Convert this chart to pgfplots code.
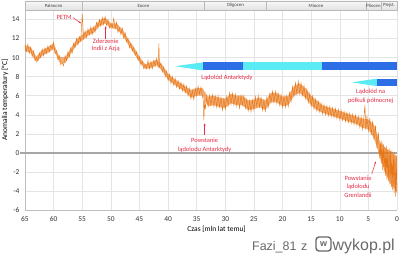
\documentclass[border=0pt]{standalone}
\usepackage{pgfplots}
\pgfplotsset{compat=1.18}
\usepackage{fontspec}
\setmainfont{Carlito}
\setsansfont{Liberation Sans}
\usetikzlibrary{arrows.meta}
\definecolor{curve}{RGB}{232,118,22}
\definecolor{annot}{RGB}{228,45,70}
\definecolor{cyanbar}{RGB}{90,235,245}
\definecolor{bluebar}{RGB}{45,110,230}
\definecolor{gridc}{RGB}{228,228,228}
\definecolor{wm}{RGB}{105,105,105}
\begin{document}
\begin{tikzpicture}
\useasboundingbox (-25bp,-45bp) rectangle (375bp,210bp);
\begin{axis}[
  at={(0,0)}, anchor=south west,
  scale only axis, width=372bp, height=200bp,
  xmin=0, xmax=65, x dir=reverse, ymin=-6, ymax=15,
  xtick={0,5,...,65}, ytick={-6,-4,...,14},
  grid=major, major grid style={gridc, line width=0.5pt},
  axis lines*=left, axis line style={black!25, line width=0.6pt},
  tick style={draw=none},
  tick label style={font=\fontsize{7.5}{8}\selectfont, text=black!80},
  xticklabel style={yshift=-3bp},
  yticklabel style={xshift=-2bp},
  /pgf/number format/assume math mode=true,
  xlabel={Czas [mln lat temu]},
  ylabel={Anomalia temperatury [°C]},
  xlabel style={font=\fontsize{7.5}{8}\selectfont, at={(axis description cs:0.515,-0.095)}, anchor=center},
  ylabel style={font=\fontsize{7.5}{8}\selectfont, at={(axis description cs:-0.054,0.55)}, anchor=center},
  clip=false,
]
% epoch band
\shade[top color=gray!6, bottom color=gray!22, draw=gray!55, line width=0.4pt] (axis cs:65,15) rectangle (axis cs:0,15.95);
\pgfplotsinvokeforeach{55,33.6,22.9,5.4,2.8}{\draw[gray!55, line width=0.4pt] (axis cs:#1,15) -- (axis cs:#1,15.95);}
\node[font=\fontsize{4.8}{5}\selectfont, text=black!75, inner sep=0pt] at (axis cs:60,15.47) {Paleocen};
\node[font=\fontsize{4.8}{5}\selectfont, text=black!75, inner sep=0pt] at (axis cs:44.3,15.47) {Eocen};
\node[font=\fontsize{4.8}{5}\selectfont, text=black!75, inner sep=0pt] at (axis cs:28.25,15.47) {Oligocen};
\node[font=\fontsize{4.8}{5}\selectfont, text=black!75, inner sep=0pt] at (axis cs:14.15,15.47) {Miocen};
\node[font=\fontsize{4.8}{5}\selectfont, text=black!75, inner sep=0pt] at (axis cs:4.1,15.47) {Pliocen};
\node[font=\fontsize{4.8}{5}\selectfont, text=black!75, inner sep=0pt] at (axis cs:1.4,15.47) {Plejst.};
% zero line
\draw[black!35, line width=1.3pt] (axis cs:65.9,0) -- (axis cs:0,0);
% ice sheet bars
\fill[cyanbar] (axis cs:38.8,9.1) -- (axis cs:33.9,9.5) -- (axis cs:33.9,8.65) -- cycle;
\fill[bluebar] (axis cs:33.9,8.65) rectangle (axis cs:26.9,9.5);
\fill[cyanbar] (axis cs:26.9,8.65) rectangle (axis cs:13.1,9.5);
\fill[bluebar] (axis cs:13.1,8.65) rectangle (axis cs:0,9.5);
\fill[cyanbar] (axis cs:7.9,7.4) -- (axis cs:3.5,7.8) -- (axis cs:3.5,7.0) -- cycle;
\fill[bluebar] (axis cs:3.5,7.0) rectangle (axis cs:0,7.8);
% envelope of the noisy record (upper edge forward, lower edge back)
\addplot[fill=curve, fill opacity=0.6, draw=none] coordinates {
(65,11.3)(64,11.1)(63,10.1)(62,10.8)(61,11.1)(60,11.5)(59,10.1)(58,10.0)(57,11.0)(56,11.9)
(55,12.4)(54,12.9)(53,13.2)(52,13.9)(51,14.2)(50,13.6)(49,13.6)(48,13.0)(47,12.0)(46,11.1)
(45,10.1)(44,9.3)(43,9.5)(42,9.8)(41,9.2)(40,8.3)(39,7.8)(38,7.4)(37,7.0)(36,6.6)
(35,6.8)(34,6.8)(33,5.9)(32,6.0)(31,5.8)(30,5.7)(29,6.2)(28,6.0)(27,6.0)(26,5.5)
(25,5.6)(24,5.8)(23,5.5)(22,6.3)(21,6.3)(20,5.9)(19,6.0)(18,7.0)(17,7.3)(16,6.8)
(15,6.0)(14,5.5)(13,5.0)(12,4.8)(11,4.6)(10,4.4)(9,4.2)(8,4.0)(7,3.8)(6,3.6)
(5,3.5)(4,2.9)(3,1.2)(2,0.5)(1,0.1)(0,-0.4)
(0,-4.1)(1,-3.4)(2,-2.2)(3,-0.4)(4,1.5)(5,2.5)(6,2.6)(7,3.0)(8,3.2)(9,3.4)
(10,3.6)(11,3.8)(12,4.0)(13,4.2)(14,4.5)(15,5.0)(16,5.8)(17,6.3)(18,6.0)(19,5.0)
(20,4.9)(21,5.3)(22,5.3)(23,4.5)(24,4.8)(25,4.6)(26,4.5)(27,5.0)(28,5.0)(29,5.2)
(30,4.7)(31,4.8)(32,5.0)(33,4.9)(34,6.0)(35,6.0)(36,5.8)(37,6.4)(38,6.8)(39,7.2)
(40,7.7)(41,8.6)(42,9.2)(43,8.9)(44,8.8)(45,9.5)(46,10.5)(47,11.4)(48,12.4)(49,13.0)
(50,13.1)(51,13.6)(52,13.3)(53,12.6)(54,12.3)(55,11.8)(56,11.3)(57,10.4)(58,9.4)(59,9.5)
(60,10.9)(61,10.5)(62,10.2)(63,9.5)(64,10.5)(65,10.7)
};
% temperature curve
\addplot[curve, line width=0.45pt] coordinates {
(65.00,11.4)(64.75,10.65)(64.50,11.4)(64.25,10.45)(64.00,11.1)(63.75,10.1)(63.50,10.7)(63.25,9.7)
(63.00,10.0)(62.75,9.65)(62.50,10.5)(62.25,10.0)(62.00,10.9)(61.75,10.2)(61.50,11.0)(61.25,10.45)
(61.00,11.2)(60.75,10.6)(60.50,11.3)(60.25,10.9)(60.00,11.6)(59.75,10.4)(59.50,10.7)(59.25,9.8)
(59.00,10.2)(58.75,9.25)(58.50,9.5)(58.25,9.15)(58.00,10.2)(57.75,9.7)(57.50,10.6)(57.25,10.05)
(57.00,11.0)(56.75,10.5)(56.50,11.5)(56.25,11.05)(56.00,12.0)(55.75,11.35)(55.50,12.2)(55.25,11.75)
(55.00,14.6)(54.75,12.0)(54.50,12.8)(54.25,12.1)(54.00,13.0)(53.75,12.4)(53.50,13.2)(53.25,12.45)
(53.00,13.2)(52.75,12.7)(52.50,13.7)(52.25,13.15)(52.00,14.0)(51.75,13.3)(51.50,14.2)(51.25,13.45)
(51.00,14.3)(50.75,13.4)(50.50,14.0)(50.25,13.1)(50.00,13.6)(49.75,13.15)(49.50,14.1)(49.25,13.05)
(49.00,13.7)(48.75,12.65)(48.50,13.1)(48.25,12.45)(48.00,13.1)(47.75,12.05)(47.50,12.6)(47.25,11.65)
(47.00,12.0)(46.75,11.05)(46.50,11.5)(46.25,10.7)(46.00,11.1)(45.75,10.25)(45.50,10.6)(45.25,9.75)
(45.00,10.1)(44.75,9.25)(44.50,9.6)(44.25,8.85)(44.00,9.3)(43.75,8.85)(43.50,9.7)(43.25,8.85)
(43.00,9.6)(42.75,8.85)(42.50,9.7)(42.25,9.1)(42.00,9.9)(41.75,9.05)(41.60,11.5)(41.50,9.0)
(41.25,9.45)(41.00,8.5)(40.75,9.05)(40.50,8.0)(40.25,8.6)(40.00,7.6)(39.75,8.25)(39.50,7.3)
(39.25,8.0)(39.00,7.1)(38.75,7.8)(38.50,6.9)(38.25,7.6)(38.00,6.7)(37.75,7.4)(37.50,6.5)
(37.25,7.2)(37.00,6.3)(36.75,7.0)(36.50,6.0)(36.25,6.75)(36.00,5.7)(35.75,6.55)(35.50,5.6)
(35.25,6.75)(35.00,6.0)(34.75,7.0)(34.50,6.2)(34.25,6.9)(34.00,6.0)(33.85,5.5)(33.75,3.4)
(33.60,5.6)(33.50,4.6)(33.25,5.8)(33.00,4.9)(32.75,6.05)(32.50,5.0)(32.25,6.1)(32.00,4.9)
(31.75,5.95)(31.50,4.8)(31.25,5.95)(31.00,4.8)(30.75,5.8)(30.50,4.5)(30.25,5.65)(30.00,4.6)
(29.75,5.95)(29.50,5.0)(29.25,6.3)(29.00,5.1)(28.75,6.25)(28.50,5.0)(28.25,6.15)(28.00,4.9)
(27.75,5.9)(27.50,4.7)(27.25,6.0)(27.00,5.0)(26.75,6.0)(26.50,4.7)(26.25,5.65)(26.00,4.4)
(25.75,5.5)(25.50,4.3)(25.25,5.55)(25.00,4.5)(24.75,5.9)(24.50,4.9)(24.25,6.0)(24.00,4.8)
(23.75,5.8)(23.50,4.5)(23.25,5.55)(23.00,4.4)(22.75,5.8)(22.50,4.8)(22.25,6.2)(22.00,5.3)
(21.75,6.45)(21.50,5.3)(21.25,6.45)(21.00,5.2)(20.75,6.2)(20.50,5.0)(20.25,6.1)(20.00,4.8)
(19.75,5.95)(19.50,4.8)(19.25,6.0)(19.00,4.9)(18.75,6.35)(18.50,5.4)(18.25,6.95)(18.00,5.9)
(17.75,7.35)(17.50,6.2)(17.25,7.5)(17.00,6.2)(16.75,7.3)(16.50,6.0)(16.25,7.05)(16.00,5.7)
(15.75,6.7)(15.50,5.3)(15.25,6.2)(15.00,4.9)(14.75,5.95)(14.50,4.6)(14.25,5.6)(14.00,4.4)
(13.75,5.4)(13.50,4.3)(13.25,5.2)(13.00,4.1)(12.75,5.05)(12.50,4.0)(12.25,4.95)(12.00,3.9)
(11.75,4.85)(11.50,3.8)(11.25,4.75)(11.00,3.7)(10.75,4.65)(10.50,3.6)(10.25,4.55)(10.00,3.5)
(9.75,4.45)(9.50,3.4)(9.25,4.35)(9.00,3.3)(8.75,4.25)(8.50,3.2)(8.25,4.15)(8.00,3.1)
(7.75,4.05)(7.50,3.0)(7.25,3.95)(7.00,2.9)(6.75,3.8)(6.50,2.7)(6.25,3.75)(6.00,2.5)
(5.75,4.0)(5.60,5.0)(5.45,2.4)(5.25,3.9)(5.00,2.3)(4.75,3.65)(4.50,1.9)(4.25,3.35)
(4.00,1.3)(3.75,2.85)(3.50,0.5)(3.25,2.15)(3.00,-0.6)(2.875,1.0)(2.75,-1.15)(2.625,1.3)
(2.50,-1.8)(2.375,0.9)(2.25,-2.0)(2.125,0.6)(2.00,-2.4)(1.875,0.7)(1.75,-2.8)(1.625,0.3)
(1.50,-3.0)(1.375,0.5)(1.25,-3.3)(1.125,0.2)(1.00,-3.6)(0.875,0.3)(0.75,-3.9)(0.625,-0.2)
(0.50,-4.2)(0.375,0.1)(0.25,-4.6)(0.125,-0.3)(0.00,-4.3)
};
% annotations
\node[font=\fontsize{6.5}{7}\selectfont, text=annot, anchor=east, inner sep=0pt] at (axis cs:56.8,14.2) {PETM};
\draw[annot, -{Stealth[length=2.5bp,width=2bp]}, line width=0.5pt] (axis cs:56.6,14.2) -- (axis cs:55.2,13.6);
\node[font=\fontsize{6.5}{7.5}\selectfont, text=annot, align=center, inner sep=0pt] at (axis cs:50.9,11.3) {Zderzenie\\Indii z Azją};
\draw[annot, -{Stealth[length=2.5bp,width=2bp]}, line width=0.5pt] (axis cs:50.9,12.0) -- (axis cs:50.9,13.3);
\node[font=\fontsize{6.5}{7}\selectfont, text=annot, inner sep=0pt] at (axis cs:29.7,7.9) {Lądolód Antarktydy};
\node[font=\fontsize{6.5}{9}\selectfont, text=annot, align=center, inner sep=0pt] at (axis cs:33.6,0.8) {Powstanie\\lądolodu Antarktydy};
\draw[annot, -{Stealth[length=2.5bp,width=2bp]}, line width=0.5pt] (axis cs:33.6,1.9) -- (axis cs:33.6,3.1);
\node[font=\fontsize{6.5}{9}\selectfont, text=annot, align=center, inner sep=0pt] at (axis cs:4.6,5.9) {Lądolód na\\półkuli północnej};
\node[font=\fontsize{6.5}{8.5}\selectfont, text=annot, align=center, inner sep=0pt] at (axis cs:6.8,-3.55) {Powstanie\\lądolodu\\Grenlandii};
\draw[annot, -{Stealth[length=2.5bp,width=2bp]}, line width=0.5pt] (axis cs:4.4,-2.2) -- (axis cs:3.7,-0.9);
\end{axis}
% watermark
\node[font=\sffamily\fontsize{12.5}{14}\selectfont, text=wm, anchor=base west, inner sep=0pt] at (227bp,-40bp) {Fazi\_81};
\node[font=\sffamily\fontsize{12.5}{14}\selectfont, text=wm, anchor=base west, inner sep=0pt] at (276bp,-40bp) {z};
\draw[wm, line width=1.4pt, rounded corners=3bp] (291bp,-41bp) rectangle (306bp,-27bp);
\node[font=\sffamily\bfseries\fontsize{9}{10}\selectfont, text=wm, inner sep=0pt] at (298.5bp,-34.5bp) {w};
\node[font=\sffamily\fontsize{16}{17}\selectfont, text=wm, anchor=base west, inner sep=0pt] at (307.5bp,-40bp) {wykop.pl};
\end{tikzpicture}
\end{document}
